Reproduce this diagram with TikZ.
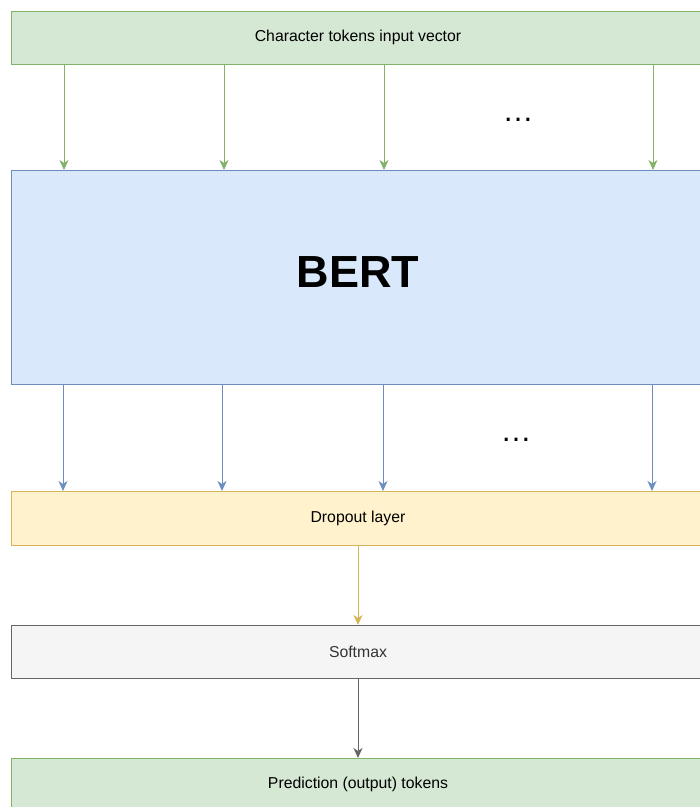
\documentclass[tikz,border=0pt]{standalone}
\usepackage{fontspec}
\setmainfont{Liberation Sans}
\usepackage{tikz}
\usetikzlibrary{arrows.meta, positioning}
\definecolor{greenfill}{HTML}{D5E8D4}
\definecolor{greenline}{HTML}{82B366}
\definecolor{bluefill}{HTML}{DAE8FC}
\definecolor{blueline}{HTML}{6C8EBF}
\definecolor{yellowfill}{HTML}{FFF2CC}
\definecolor{yellowline}{HTML}{D6B656}
\definecolor{grayfill}{HTML}{F5F5F5}
\definecolor{grayline}{HTML}{666666}
\definecolor{graytext}{HTML}{333333}

\begin{document}
\begin{tikzpicture}[x=1pt, y=1pt, line width=1pt, >={Stealth[length=10pt, width=9pt, inset=3pt]},
    layer/.style={draw, minimum width=693pt, minimum height=53pt, inner sep=0pt, outer sep=0pt, font=\fontsize{15.8}{18}\selectfont}]
    \clip (0,0) rectangle (700,-807);
    \node[layer, draw=greenline, fill=greenfill] (input) at (358,-37.5) {Character tokens input vector};
    \node[layer, draw=blueline, fill=bluefill, minimum height=214pt, below=106pt of input, text depth=10pt, font=\fontsize{45}{50}\selectfont\bfseries] (bert) {BERT};
    \node[layer, draw=yellowline, fill=yellowfill, minimum height=54pt, below=107pt of bert] (dropout) {Dropout layer};
    \node[layer, draw=grayline, fill=grayfill, text=graytext, below=80pt of dropout] (softmax) {Softmax};
    \node[layer, draw=greenline, fill=greenfill, below=80pt of softmax] (output) {Prediction (output) tokens};

    \node[font=\fontsize{31}{31}\selectfont] (dotsin) at (518,-120) {…};
    \node[font=\fontsize{31}{31}\selectfont] (dotsout) at (516,-440) {…};

    % input vector into BERT
    \draw[->, greenline] ([xshift=52.5pt]input.south west) -- ([xshift=52.5pt]bert.north west);
    \draw[->, greenline] ([xshift=212.5pt]input.south west) -- ([xshift=212.5pt]bert.north west);
    \draw[->, greenline] ([xshift=372.5pt]input.south west) -- ([xshift=372.5pt]bert.north west);
    \draw[->, greenline] ([xshift=641.5pt]input.south west) -- ([xshift=641.5pt]bert.north west);

    % BERT outputs into dropout
    \draw[->, blueline] ([xshift=51.5pt]bert.south west) -- ([xshift=51.5pt]dropout.north west);
    \draw[->, blueline] ([xshift=210.5pt]bert.south west) -- ([xshift=210.5pt]dropout.north west);
    \draw[->, blueline] ([xshift=371.5pt]bert.south west) -- ([xshift=371.5pt]dropout.north west);
    \draw[->, blueline] ([xshift=640.5pt]bert.south west) -- ([xshift=640.5pt]dropout.north west);

    \draw[->, yellowline] (dropout.south) -- (softmax.north);
    \draw[->, grayline] (softmax.south) -- (output.north);
\end{tikzpicture}
\end{document}
